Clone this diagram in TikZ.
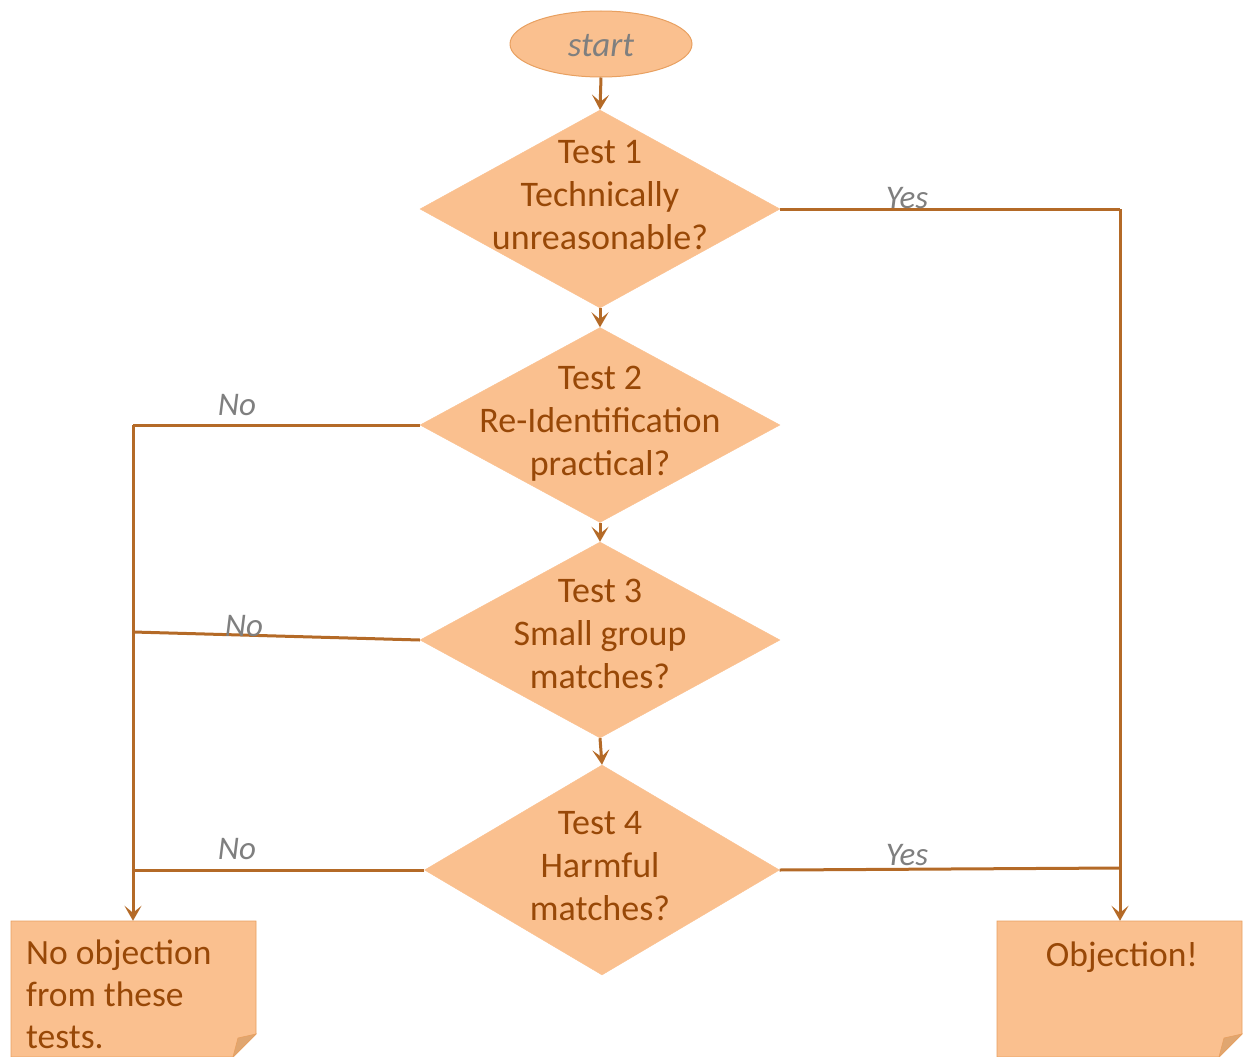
\documentclass[tikz,border=0pt]{standalone}
\usepackage{fontspec}
\setmainfont{Carlito}
\usetikzlibrary{shapes.geometric,arrows.meta,calc}
\definecolor{fillor}{HTML}{FAC08F}
\definecolor{edgeor}{HTML}{E8A060}
\definecolor{linebr}{HTML}{B46A27}
\definecolor{txtbr}{HTML}{984807}
\definecolor{lblgray}{HTML}{7F7F7F}
\definecolor{foldor}{HTML}{E0A670}
\begin{document}
\begin{tikzpicture}[x=1pt,y=-1pt,
  dec/.style={diamond,fill=fillor,draw=fillor,inner sep=0pt,minimum width=360pt,minimum height=198pt},
  dtext/.style={text=txtbr,align=center,font=\fontsize{36}{43}\selectfont,inner sep=0pt},
  lbl/.style={text=lblgray,font=\fontsize{33}{40}\selectfont\itshape,inner sep=0pt},
  conn/.style={draw=linebr,line width=3pt},
  arr/.style={conn,-{Stealth[length=15pt,width=17pt,inset=7pt]}},
  note/.style={fill=fillor,draw=edgeor,line width=0.8pt}]
\useasboundingbox (0,0) rectangle (1243,1057);
% start
\node[ellipse,fill=fillor,draw=edgeor,line width=1pt,minimum width=182pt,minimum height=66pt,inner sep=0pt] (start) at (601,44) {};
\node[lbl,font=\fontsize{35}{40}\selectfont\itshape] (startt) at (601,46) {start};
% diamonds
\node[dec] (d1) at (600,209) {};
\node[dec,minimum height=195pt] (d2) at (600,425) {};
\node[dec,minimum height=196pt] (d3) at (600,640) {};
\node[dec,minimum width=355pt,minimum height=210pt] (d4) at (602,870) {};
\node[dtext] (d1t) at (600,195) {Test 1\\Technically\\unreasonable?};
\node[dtext] (d2t) at (600,424) {Test 2\\Re-Identification\\practical?};
\node[dtext] (d3t) at (600,634) {Test 3\\Small group\\matches?};
\node[dtext] (d4t) at (600,866) {Test 4\\Harmful\\matches?};
% notes
\path[note] (11,921) -- (256,921) -- (256,1034) -- (233,1057) -- (11,1057) -- cycle;
\path[fill=foldor,draw=edgeor,line width=0.6pt] (256,1034) -- (233,1057) -- (238,1038) -- cycle;
\path[note] (997,921) -- (1242,921) -- (1242,1034) -- (1219,1057) -- (997,1057) -- cycle;
\path[fill=foldor,draw=edgeor,line width=0.6pt] (1242,1034) -- (1219,1057) -- (1224,1038) -- cycle;
\node[inner sep=0pt,minimum width=245pt,minimum height=136pt] (noobj) at (133.5,989) {};
\node[inner sep=0pt,minimum width=245pt,minimum height=136pt] (obj) at (1119.5,989) {};
\node[dtext,align=left,anchor=north west,font=\fontsize{35.5}{42}\selectfont] (noobjt) at (26,940) {No objection\\from these\\tests.};
\node[dtext,font=\fontsize{35.5}{42}\selectfont] (objt) at (1122,957) {Objection!};
% connectors
\draw[arr] (start.south) -- (d1.north);
\draw[arr] (d1.south) -- (d2.north);
\draw[arr] (d2.south) -- (d3.north);
\draw[arr] (d3.south) -- (d4.north);
\coordinate (L2) at (133,425);
\coordinate (L3) at (133,632);
\coordinate (L4) at (133,870);
\coordinate (R1) at (1120,209);
\coordinate (R4) at (1120,868);
\draw[conn] (d2.west) -- (L2);
\draw[conn] (d3.west) -- (L3);
\draw[conn] (d4.west) -- (L4);
\draw[arr] (L2) -- (noobj.north -| L2);
\draw[conn] (d1.east) -- (R1);
\draw[arr] (R1) -- (obj.north -| R1);
\draw[conn] (d4.east) -- (R4);
% labels
\node[lbl] (no2) at (237,405) {No};
\node[lbl] (no3) at (244,626) {No};
\node[lbl] (no4) at (237,849) {No};
\node[lbl] (yes1) at (907,198) {Yes};
\node[lbl] (yes4) at (907,855) {Yes};
\end{tikzpicture}
\end{document}
